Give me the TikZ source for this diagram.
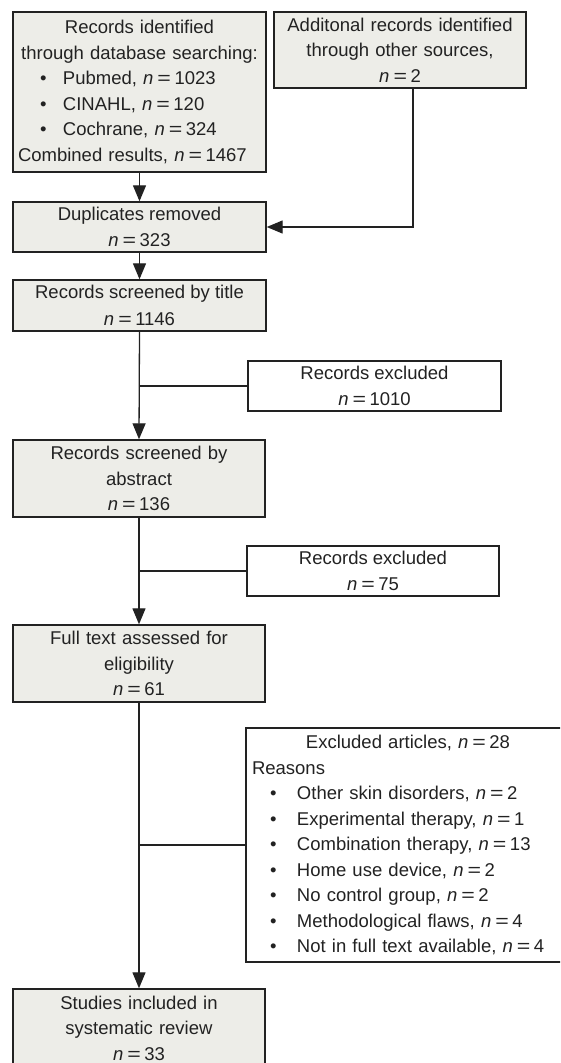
\documentclass[tikz,border=0pt]{standalone}
\usepackage{fontspec}
\setmainfont{Liberation Sans}
\usetikzlibrary{arrows.meta,calc}
\definecolor{boxfill}{HTML}{EDEDE8}
\definecolor{ink}{HTML}{222222}
\newcommand{\myn}[1]{\textit{n}\kern4pt\scalebox{1.25}[1]{=}\kern3.5pt#1}
\newcommand{\blt}[1]{\hspace*{22pt}\makebox[23pt][l]{\textbullet}#1}
\newcommand{\hblt}[1]{\hspace*{18pt}\makebox[27pt][l]{\textbullet}#1}
\begin{document}
\begin{tikzpicture}[x=1pt,y=1pt,
  every node/.style={text=ink},
  basebox/.style={draw=ink, line width=1.4pt, inner sep=0pt, align=center,
    font=\fontsize{18.5}{25.5}\selectfont},
  greybox/.style={basebox, fill=boxfill},
  whitebox/.style={basebox, fill=white},
  conn/.style={draw=ink, line width=1.3pt},
  arr/.style={conn, -{Triangle[width=13pt,length=16pt]}}]
\useasboundingbox (0,0) rectangle (560,-1063);
\clip (0,0) rectangle (560,-1063);
\fill[white] (0,0) rectangle (560,-1063);

\node[greybox, minimum width=253pt, minimum height=160pt, text width=243pt, align=left] (A) at (139.5,-92)
 {\makebox[\linewidth][c]{Records identified}\\
  \makebox[\linewidth][c]{through database searching:}\\
  \blt{Pubmed, \myn{1023}}\\
  \blt{CINAHL, \myn{120}}\\
  \blt{Cochrane, \myn{324}}\\
  Combined results, \myn{1467}};

\node[greybox, minimum width=252pt, minimum height=76pt, text width=245pt] (B) at (400,-50)
 {Additonal records identified\\ through other sources,\\ \myn{2}};

\node[greybox, minimum width=253pt, minimum height=50pt, font=\fontsize{18.5}{26.5}\selectfont] (C) at (139.5,-227)
 {Duplicates removed\\ \myn{323}};

\node[greybox, minimum width=253pt, minimum height=51pt, font=\fontsize{18.5}{26.5}\selectfont] (D) at (139.5,-305.5)
 {Records screened by title\\ \myn{1146}};

\node[whitebox, minimum width=253pt, minimum height=50pt, font=\fontsize{18.5}{26.5}\selectfont] (E) at (374.5,-386)
 {Records excluded\\ \myn{1010}};

\node[greybox, minimum width=252pt, minimum height=77pt, text width=240pt] (F) at (139,-478.5)
 {Records screened by\\ abstract\\ \myn{136}};

\node[whitebox, minimum width=252pt, minimum height=50pt, font=\fontsize{18.5}{26.5}\selectfont] (X) at (373,-571)
 {Records excluded\\ \myn{75}};

\node[greybox, minimum width=252pt, minimum height=77pt, text width=240pt] (G) at (139,-663.5)
 {Full text assessed for\\ eligibility\\ \myn{61}};

\node[whitebox, minimum width=324pt, minimum height=234pt, text width=312pt, align=left] (H) at (408,-845)
 {\makebox[\linewidth][c]{Excluded articles, \myn{28}}\\
  Reasons\\
  \hblt{Other skin disorders, \myn{2}}\\
  \hblt{Experimental therapy, \myn{1}}\\
  \hblt{Combination therapy, \myn{13}}\\
  \hblt{Home use device, \myn{2}}\\
  \hblt{No control group, \myn{2}}\\
  \hblt{Methodological flaws, \myn{4}}\\
  \hblt{Not in full text available, \myn{4}}};

\node[greybox, minimum width=252pt, minimum height=78pt, text width=240pt, font=\fontsize{18.5}{25.5}\selectfont] (S) at (139,-1028)
 {Studies included in\\ systematic review\\ \myn{33}};

\coordinate (bx) at (413,0);

\draw[arr] (A.south -| C.north) -- (C.north);
\draw[arr] (B.south -| bx) |- (C.east);
\draw[arr] (C.south) -- (D.north);
\draw[arr] (D.south) -- (F.north);
\draw[conn] (D.south |- E.west) -- (E.west);
\draw[arr] (F.south) -- (G.north);
\draw[conn] (F.south |- X.west) -- (X.west);
\draw[arr] (G.south) -- (S.north);
\draw[conn] (G.south |- H.west) -- (H.west);
\end{tikzpicture}
\end{document}
